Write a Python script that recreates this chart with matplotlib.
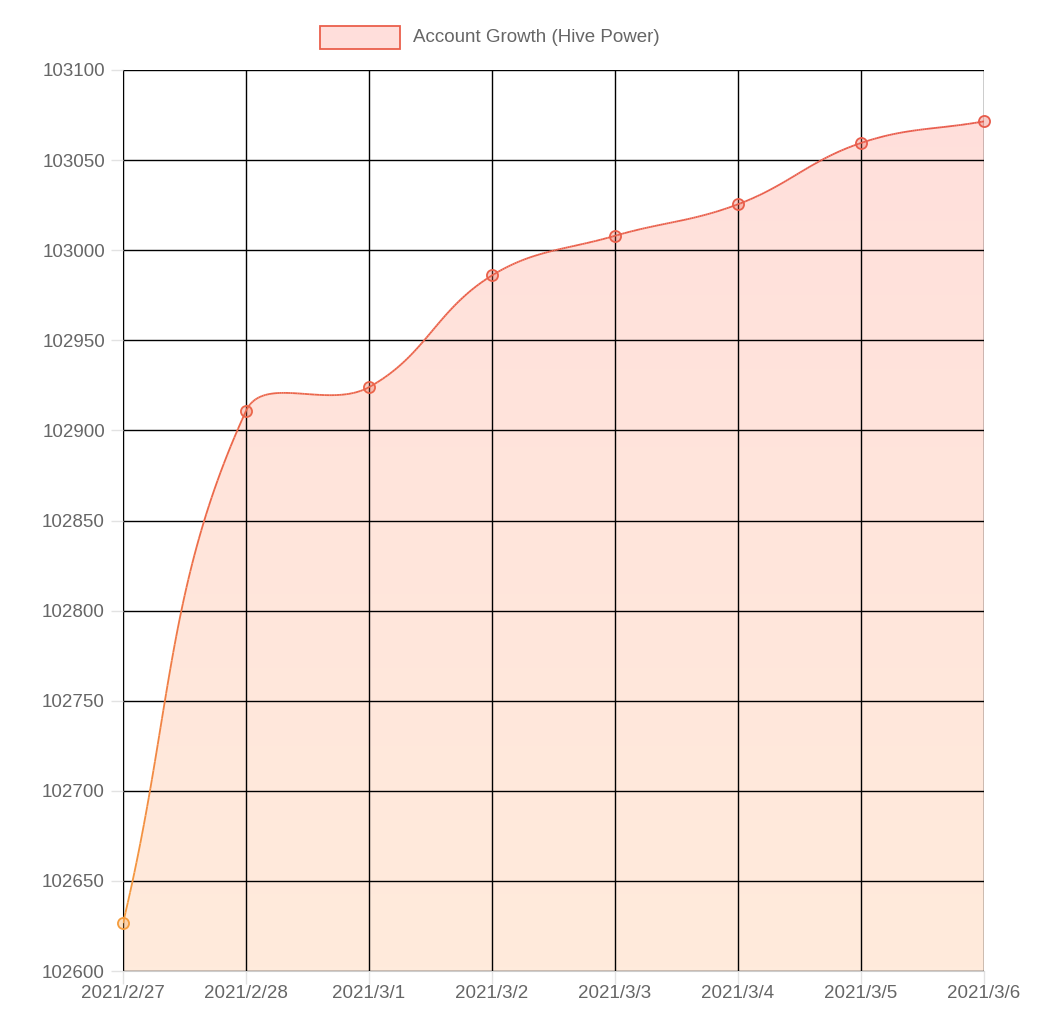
import numpy as np
import matplotlib
matplotlib.use("Agg")
import matplotlib.pyplot as plt
from matplotlib.collections import LineCollection
from matplotlib.patches import Rectangle, Polygon
from matplotlib.colors import LinearSegmentedColormap

plt.rcParams["font.family"] = "Liberation Sans"

dates = ["2021/2/27", "2021/2/28", "2021/3/1", "2021/3/2", "2021/3/3", "2021/3/4", "2021/3/5", "2021/3/6"]
values = [102626.6, 102910.8, 102924.0, 102986.0, 103008.0, 103025.5, 103059.5, 103071.5]
yticks = [102600, 102650, 102700, 102750, 102800, 102850, 102900, 102950, 103000, 103050, 103100]

fig = plt.figure(figsize=(10.42, 10.30), dpi=100)
ax = fig.add_axes([123/1042, 59/1030, (984-123)/1042, (971-70)/1030])
x = np.arange(len(values), dtype=float)
y = np.array(values)

t = 0.4
def ctrl(i):
    p0 = (x[max(i-1,0)], y[max(i-1,0)]); p1 = (x[i], y[i]); p2 = (x[min(i+1,len(x)-1)], y[min(i+1,len(x)-1)])
    d01 = np.hypot(p1[0]-p0[0], (p1[1]-p0[1])/60); d12 = np.hypot(p2[0]-p1[0], (p2[1]-p1[1])/60)
    s = d01+d12
    fa = t*d01/s if s else 0; fb = t*d12/s if s else 0
    prev = (p1[0]-fa*(p2[0]-p0[0]), p1[1]-fa*(p2[1]-p0[1]))
    nxt = (p1[0]+fb*(p2[0]-p0[0]), p1[1]+fb*(p2[1]-p0[1]))
    return prev, nxt
cs = [ctrl(i) for i in range(len(x))]
cx, cy = [], []
tt = np.linspace(0, 1, 60)
for i in range(len(x)-1):
    P0 = np.array([x[i], y[i]]); P1 = np.array(cs[i][1]); P2 = np.array(cs[i+1][0]); P3 = np.array([x[i+1], y[i+1]])
    B = ((1-tt)**3)[:,None]*P0 + (3*(1-tt)**2*tt)[:,None]*P1 + (3*(1-tt)*tt**2)[:,None]*P2 + (tt**3)[:,None]*P3
    cx.extend(B[:,0]); cy.extend(B[:,1])
cx = np.array(cx); cy = np.array(cy)

ymin, ymax = 102600, 103100
ax.set_xlim(0, len(x)-1); ax.set_ylim(ymin, ymax)

fcm = LinearSegmentedColormap.from_list("f", ["#ffebdc", "#ffdfdb"])
img = ax.imshow(np.linspace(0,1,256)[:,None], cmap=fcm, origin="lower", aspect="auto",
                extent=[0, len(x)-1, ymin, ymax], zorder=1)
poly = Polygon(np.column_stack([np.r_[cx, cx[-1], cx[0]], np.r_[cy, ymin, ymin]]), closed=True,
               transform=ax.transData, facecolor="none", edgecolor="none")
ax.add_patch(poly)
img.set_clip_path(poly)

lcm = LinearSegmentedColormap.from_list("l", ["#f6a23c", "#ec6a4a", "#e85a4c"])
pts = np.column_stack([cx, cy]).reshape(-1,1,2)
segs = np.concatenate([pts[:-1], pts[1:]], axis=1)
lc = LineCollection(segs, cmap=lcm, norm=plt.Normalize(ymin, ymax), linewidth=1.3, zorder=3)
lc.set_array((cy[:-1]+cy[1:])/2)
ax.add_collection(lc)
for xi, yi in zip(x, y):
    col = lcm((yi-ymin)/(ymax-ymin))
    ax.plot(xi, yi, "o", ms=8, mfc=(col[0], col[1], col[2], 0.3), mec=col, mew=1.3, zorder=4, clip_on=False)

ax.set_xticks(x); ax.set_xticklabels(dates)
ax.set_yticks(yticks); ax.set_yticklabels([str(v) for v in yticks])
ax.set_axisbelow(False)
ax.grid(True, color=(0, 0, 0, 0.1), linewidth=1, zorder=2)
for s in ["top", "right"]:
    ax.spines[s].set_visible(False)
ax.spines["left"].set_color("#999999"); ax.spines["bottom"].set_color("#cccccc")
ax.tick_params(axis="both", colors="#e2e2e2", labelcolor="#666666", labelsize=13.5, length=9, width=1)
ax.tick_params(axis="y", pad=4); ax.tick_params(axis="x", pad=1)

fig.patches.append(Rectangle((320/1042, 1-49/1030), 80/1042, 23/1030, transform=fig.transFigure,
                             facecolor="#ffdedb", edgecolor="#ea5f4c", linewidth=1.3))
fig.text(413/1042, 1-38/1030, "Account Growth (Hive Power)", fontsize=13.5, color="#666666", va="center", ha="left")

fig.savefig("out.png", dpi=100)
